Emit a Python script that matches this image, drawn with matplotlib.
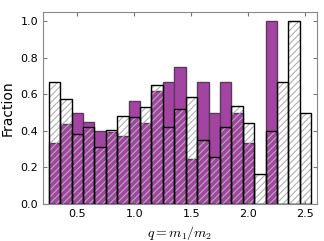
import numpy as np
import matplotlib
matplotlib.use("Agg")
import matplotlib.pyplot as plt

# bins of q, width 0.1
bin_edges = np.round(np.arange(0.25, 2.551, 0.1), 2)

# fraction per bin, hatched (open) histogram
frac_open = [0.667, 0.577, 0.381, 0.42, 0.312, 0.403, 0.484, 0.478, 0.533, 0.65,
             0.42, 0.522, 0.588, 0.35, 0.259, 0.42, 0.536, 0.441, 0.164, 0.398,
             0.667, 1.0, 0.5]

# fraction per bin, purple histogram
frac_purple = [0.333, 0.436, 0.5, 0.447, 0.4, 0.394, 0.372, 0.562, 0.443, 0.619,
               0.667, 0.748, 0.245, 0.667, 0.5, 0.667, 0.5, 0.333, 0.0, 1.0,
               0.0, 0.0, 0.0]

plt.rcParams["mathtext.fontset"] = "cm"
plt.rcParams["hatch.linewidth"] = 0.8

fig = plt.figure(figsize=(3.24, 2.41), dpi=100)
ax = fig.add_axes([0.133, 0.154, 0.845, 0.795])

left = bin_edges[:-1]
width = np.diff(bin_edges)

ax.bar(left, frac_purple, width=width, align="edge",
       color="#a344a3", edgecolor="#5a3a5a", linewidth=1.0, zorder=1)

# hatch only
ax.bar(left, frac_open, width=width, align="edge",
       facecolor="none", edgecolor="#b0b0b0", hatch="/////", linewidth=0, zorder=2)
# outline
ax.bar(left, frac_open, width=width, align="edge",
       facecolor="none", edgecolor="black", linewidth=1.0, zorder=3)

ax.set_xlim(0.2, 2.6)
ax.set_ylim(0, 1.05)
ax.set_xticks([0.5, 1.0, 1.5, 2.0, 2.5])
ax.set_yticks([0.0, 0.2, 0.4, 0.6, 0.8, 1.0])
ax.tick_params(direction="in", top=True, right=True, labelsize=8, length=3,
               color="#777777")
for s in ax.spines.values():
    s.set_color("#888888")

ax.set_xlabel(r"$q = m_1/m_2$", fontsize=10)
ax.set_ylabel("Fraction", fontsize=10)

fig.savefig("out.png", dpi=100)
